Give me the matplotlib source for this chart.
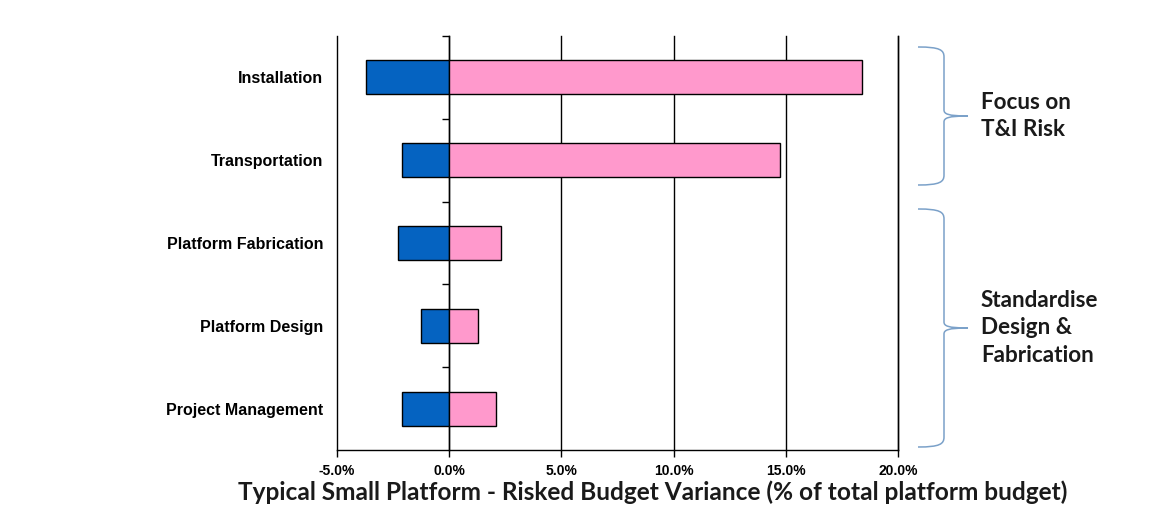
import matplotlib
matplotlib.use("Agg")
import matplotlib.pyplot as plt
from matplotlib.path import Path
from matplotlib.patches import PathPatch
from matplotlib.ticker import FuncFormatter

categories = ["Installation", "Transportation", "Platform Fabrication",
              "Platform Design", "Project Management"]
downside = [-3.7, -2.1, -2.3, -1.25, -2.1]   # % of total platform budget
upside = [18.4, 14.75, 2.3, 1.3, 2.1]
xticks = [-5, 0, 5, 10, 15, 20]
xlabel = "Typical Small Platform - Risked Budget Variance (% of total platform budget)"
group_texts = ["Focus on\nT&I Risk", "Standardise\nDesign &\nFabrication"]

# layout (pixels) for braces: top, bottom
brace_spans = [(47, 185), (209, 447)]

W, H = 1158, 523
fig = plt.figure(figsize=(W / 100, H / 100), dpi=100)
ax = fig.add_axes([337 / W, 1 - 450 / H, (898 - 337) / W, (450 - 36) / H])

y = list(range(len(categories)))
ax.barh(y, downside, height=0.41, color="#0563C1", edgecolor="black", linewidth=1, zorder=3)
ax.barh(y, upside, height=0.41, color="#FF99CC", edgecolor="black", linewidth=1, zorder=3)

ax.set_xlim(xticks[0], xticks[-1])
ax.set_ylim(len(categories) - 0.5, -0.5)
ax.set_xticks(xticks)
ax.xaxis.set_major_formatter(FuncFormatter(lambda v, p: f"{v:.1f}%"))
ax.grid(axis="x", color="black", linewidth=1, zorder=1)
for gl in ax.get_xgridlines():
    gl.set_clip_on(False)
for s in ["top", "left"]:
    ax.spines[s].set_visible(False)
ax.spines["right"].set_linewidth(1)
ax.spines["bottom"].set_linewidth(1)
ax.tick_params(axis="x", length=5, width=1, direction="out", pad=5)
for lab in ax.get_xticklabels():
    lab.set_fontfamily("Liberation Sans")
    lab.set_fontweight("bold")
    lab.set_fontsize(10)

ax.set_yticks(y)
ax.set_yticklabels(categories, fontfamily="Liberation Sans", fontweight="bold", fontsize=11.5)
ax.tick_params(axis="y", length=0, pad=10)

# vertical axis crossing at zero, with category boundary ticks
zero_frac = (0 - xticks[0]) / (xticks[-1] - xticks[0])
sec = ax.secondary_yaxis(zero_frac)
sec.set_yticks([i - 0.5 for i in range(len(categories))])
sec.set_yticklabels([])
sec.tick_params(axis="y", length=5, width=1, direction="out")
sec.spines["left"].set_linewidth(1)
sec.spines["left"].set_zorder(4)

fig.text(653 / W, 1 - 492 / H, xlabel, ha="center", va="center",
         fontfamily="Lato", fontweight="bold", fontsize=17.6, color="#1a1a1a")

# braces
def px(xp, yp):
    return (xp / W, 1 - yp / H)

bcol = "#7BA1C9"
def brace(top, bot):
    mid = (top + bot) / 2
    xl, xv, xt = 918, 944, 968
    verts = [px(xl, top), px(xv - 4, top), px(xv, top + 3), px(xv, top + 10),
             px(xv, mid - 6),
             px(xv, mid - 2), px(xv + 4, mid), px(xt, mid),
             px(xv + 4, mid), px(xv, mid + 2), px(xv, mid + 6),
             px(xv, bot - 10),
             px(xv, bot - 3), px(xv - 4, bot), px(xl, bot)]
    codes = [Path.MOVETO, Path.CURVE4, Path.CURVE4, Path.CURVE4,
             Path.LINETO,
             Path.CURVE4, Path.CURVE4, Path.CURVE4,
             Path.CURVE4, Path.CURVE4, Path.CURVE4,
             Path.LINETO,
             Path.CURVE4, Path.CURVE4, Path.CURVE4]
    fig.add_artist(PathPatch(Path(verts, codes), facecolor="none", edgecolor=bcol,
                             linewidth=1.1, transform=fig.transFigure))

for text, (top, bot) in zip(group_texts, brace_spans):
    brace(top, bot)
    mid = (top + bot) / 2
    fig.text(981 / W, 1 - mid / H, text, ha="left", va="center",
             fontfamily="Lato", fontweight="bold", fontsize=16.2,
             linespacing=1.4, color="#1a1a1a")

fig.savefig("out.png", dpi=100)
